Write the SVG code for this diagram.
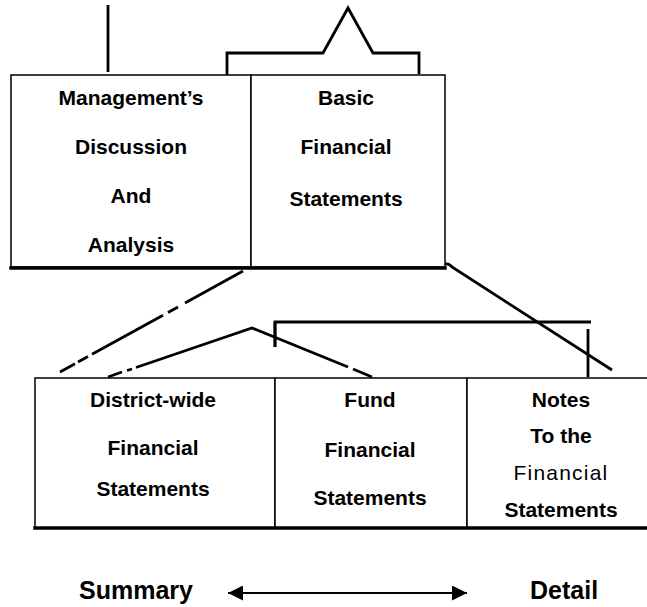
<svg xmlns="http://www.w3.org/2000/svg" width="647" height="607" viewBox="0 0 647 607">
<style>
.t{font-family:"Liberation Sans",Arial,sans-serif;font-weight:bold;font-size:21px;fill:#000;text-anchor:middle}
.thin{font-weight:normal;letter-spacing:1.2px}
.box{fill:#fff;stroke:#000;stroke-width:1.5}
.heavy{stroke:#000;stroke-width:3.5;fill:none;stroke-linecap:square}
.ln{stroke:#000;stroke-width:2.8;fill:none;stroke-linejoin:miter}
.dot{stroke:#000;stroke-width:1.3;fill:none;stroke-dasharray:1.5 2.5}
.big{font-family:"Liberation Sans",Arial,sans-serif;font-weight:bold;font-size:25px;fill:#000}
</style>
<defs>
<marker id="ah" markerWidth="16" markerHeight="15" refX="15" refY="7.5" orient="auto-start-reverse" markerUnits="userSpaceOnUse">
<path d="M0,0 L15,7.5 L0,15 Z" fill="#000"/>
</marker>
</defs>
<rect width="647" height="607" fill="#fff"/>

<g id="connectors">
<line x1="108" y1="5" x2="108" y2="72" class="ln" stroke-width="3.5"/>
<polyline points="227,77 227,53 323,53 348,8 373,53 419,53 419,74" class="ln" stroke-width="3.5"/>
<line x1="256" y1="266" x2="323" y2="228" class="dot"/>
<line x1="397" y1="230" x2="433" y2="257" class="dot"/>
<path d="M243,271 L185,303 M178,307 L168,312.4 M163,315.2 L92,354.3 M88,356.6 L78,362.1 M75,363.7 L60,372" class="ln"/>
<path d="M108,377 L122,372 M127,370.5 L132,369 M136,367.5 L252,328 L348,367 M353,369 L372,377" class="ln"/>
<path d="M445,264 Q449,263 452,267 L612,370" class="ln"/>
<polyline points="275,347 275,322 591,322" class="ln"/>
<line x1="275" y1="322" x2="275" y2="347" class="ln" stroke-width="3.5"/>
<line x1="588" y1="329" x2="588" y2="377" class="ln" stroke-width="3.5"/>
<line x1="228" y1="593" x2="467" y2="593" stroke="#000" stroke-width="2" marker-start="url(#ah)" marker-end="url(#ah)"/>
</g>

<g id="mda">
<rect x="11" y="75" width="240" height="192" class="box"/>
<text class="t" x="131" y="105">Management’s</text>
<text class="t" x="131" y="154">Discussion</text>
<text class="t" x="131" y="203">And</text>
<text class="t" x="131" y="252">Analysis</text>
</g>

<g id="basic">
<rect x="251" y="75" width="194" height="192" class="box"/>
<text class="t" x="346" y="105">Basic</text>
<text class="t" x="346" y="154">Financial</text>
<text class="t" x="346" y="206">Statements</text>
</g>
<line x1="11" y1="268" x2="445" y2="268" class="heavy"/>

<g id="districtwide">
<rect x="35" y="378" width="240" height="150" class="box"/>
<text class="t" x="153" y="407">District-wide</text>
<text class="t" x="153" y="455">Financial</text>
<text class="t" x="153" y="496">Statements</text>
</g>

<g id="fund">
<rect x="275" y="378" width="192" height="150" class="box"/>
<text class="t" x="370" y="407">Fund</text>
<text class="t" x="370" y="457">Financial</text>
<text class="t" x="370" y="505">Statements</text>
</g>

<g id="notes">
<rect x="467" y="378" width="190" height="150" class="box"/>
<text class="t" x="561" y="407">Notes</text>
<text class="t" x="561" y="443">To the</text>
<text class="t thin" x="561" y="480">Financial</text>
<text class="t" x="561" y="517">Statements</text>
</g>
<line x1="35" y1="528" x2="647" y2="528" class="heavy"/>

<g id="scale">
<text class="big" x="193" y="599" text-anchor="end">Summary</text>
<text class="big" x="530" y="599">Detail</text>
</g>
</svg>
